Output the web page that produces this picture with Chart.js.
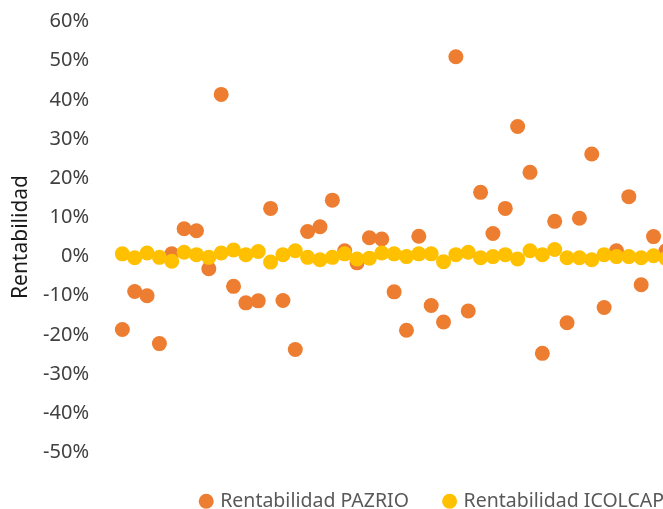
<!DOCTYPE html>
<html lang="es">
<head>
<meta charset="utf-8">
<title>Rentabilidad PAZRIO vs ICOLCAP</title>
<script src="https://cdn.jsdelivr.net/npm/chart.js@4.4.1/dist/chart.umd.min.js"></script>
<style>
  html, body { margin: 0; padding: 0; background: #ffffff; overflow: hidden; }
  #wrap { position: relative; width: 866px; height: 521px; }
</style>
</head>
<body>
<div id="wrap"><canvas id="grafico" width="866" height="521"></canvas></div>
<script>
// Periodos (eje X, sin etiquetas visibles)
const periodos = [1, 2, 3, 4, 5, 6, 7, 8, 9, 10, 11, 12, 13, 14, 15, 16, 17, 18, 19, 20,
  21, 22, 23, 24, 25, 26, 27, 28, 29, 30, 31, 32, 33, 34, 35, 36, 37, 38, 39, 40,
  41, 42, 43, 44, 45];

// Rentabilidad por periodo, en %
const rentPazrio = [-18.6, -8.9, -10.0, -22.2, 0.7, 7.1, 6.6, -3.1, 41.4, -7.6,
  -11.8, -11.3, 12.3, -11.2, -23.7, 6.4, 7.6, 14.4, 1.5, -1.6,
  4.8, 4.5, -9.0, -18.8, 5.2, -12.5, -16.7, 51.0, -13.9, 16.4,
  5.9, 12.3, 33.2, 21.5, -24.7, 9.0, -16.9, 9.8, 26.2, -13.0,
  1.5, 15.3, -7.2, 5.1, 1.5];

const rentIcolcap = [0.7, -0.3, 0.9, -0.2, -1.2, 1.1, 0.5, -0.2, 0.9, 1.7,
  0.5, 1.3, -1.4, 0.5, 1.5, -0.2, -0.8, -0.2, 0.7, -0.6,
  -0.4, 0.9, 0.7, 0.0, 0.7, 0.7, -1.3, 0.5, 1.1, -0.3,
  0.0, 0.5, -0.6, 1.5, 0.5, 1.8, -0.3, -0.3, -0.8, 0.5,
  0.0, 0.0, -0.3, 0.2, -0.5];

// Marcas del eje Y
const ticksY = [-50, -40, -30, -20, -10, 0, 10, 20, 30, 40, 50, 60];

const serie = (valores) => periodos.map((p, i) => ({ x: p, y: valores[i] }));

const FUENTE = "'Noto Sans', 'DejaVu Sans', sans-serif";

new Chart(document.getElementById('grafico'), {
  type: 'scatter',
  data: {
    datasets: [
      {
        label: 'Rentabilidad PAZRIO',
        data: serie(rentPazrio),
        backgroundColor: '#ED7D31',
        borderWidth: 0,
        pointRadius: 7.5,
        pointHoverRadius: 7.5,
        order: 1
      },
      {
        label: 'Rentabilidad ICOLCAP',
        data: serie(rentIcolcap),
        backgroundColor: '#FFC000',
        borderWidth: 0,
        pointRadius: 7.5,
        pointHoverRadius: 7.5,
        order: 0
      }
    ]
  },
  options: {
    responsive: false,
    animation: false,
    devicePixelRatio: 1,
    layout: { autoPadding: false, padding: { top: 21.5, right: 0, bottom: 0, left: 0 } },
    scales: {
      x: {
        type: 'linear',
        min: 0,
        max: 61.2,
        grid: { display: false, drawTicks: false },
        border: { display: false },
        ticks: { display: false },
        afterFit: (s) => { s.height = 2.5; s.paddingLeft = 0; s.paddingRight = 0; }
      },
      y: {
        min: ticksY[0],
        max: ticksY[ticksY.length - 1],
        grid: { display: false, drawTicks: false },
        border: { display: false },
        afterBuildTicks: (s) => { s.ticks = ticksY.map(v => ({ value: v })); },
        afterFit: (s) => { s.width = 110; s.paddingTop = 0; s.paddingBottom = 0; },
        ticks: {
          padding: 21,
          color: '#404040',
          font: { family: FUENTE, size: 20 },
          callback: (v) => Math.round(v) + '%'
        },
        title: {
          display: true,
          text: 'Rentabilidad',
          color: '#1a1a1a',
          font: { family: FUENTE, size: 21 },
          padding: { top: 8, bottom: 0 }
        }
      }
    },
    plugins: {
      tooltip: { enabled: false },
      legend: {
        position: 'bottom',
        labels: {
          usePointStyle: true,
          pointStyle: 'circle',
          boxWidth: 8.5,
          boxHeight: 10.6,
          padding: 36.5,
          color: '#595959',
          font: { family: FUENTE, size: 19.5 },
          sort: (a, b) => a.datasetIndex - b.datasetIndex
        }
      }
    }
  }
});
</script>
</body>
</html>
